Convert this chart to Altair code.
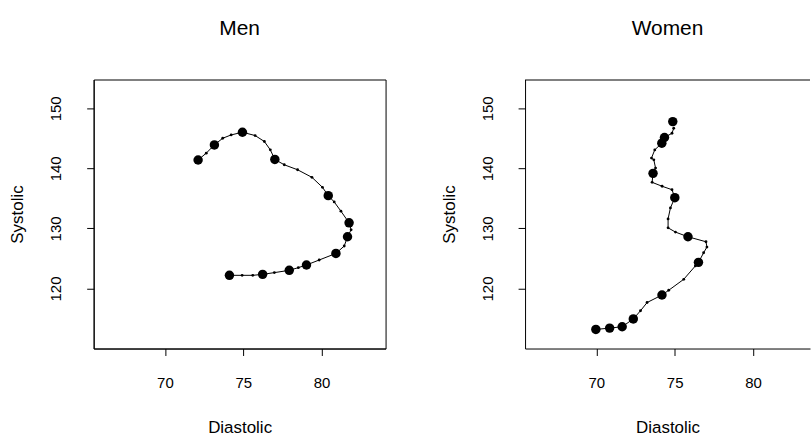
import altair as alt
import pandas as pd

# ---- data ----
# Men: large points (age-group means), in order along the curve
men_dia = [74.12, 76.24, 77.94, 79.04, 80.92, 81.66, 81.76, 80.43, 77.02, 74.95, 73.16, 72.12]
men_sys = [122.19, 122.35, 123.02, 123.91, 125.84, 128.61, 130.93, 135.46, 141.49, 146.02, 143.91, 141.40]
# Men: smoothed curve vertices (small dots)
men_curve_dia = [74.12, 74.93, 75.61, 76.24, 76.99, 77.94, 78.52, 79.04, 79.85, 80.92, 81.45, 81.66,
                 81.89, 81.76, 81.24, 80.81, 80.43, 80.06, 79.39, 78.47, 77.62, 77.02, 76.73, 76.35,
                 75.76, 74.95, 74.23, 73.69, 73.16, 72.64, 72.12]
men_curve_sys = [122.19, 122.19, 122.19, 122.35, 122.64, 123.02, 123.47, 123.91, 124.74, 125.84, 127.07, 128.61,
                 129.77, 130.93, 132.87, 134.41, 135.46, 136.85, 138.51, 139.77, 140.60, 141.49, 143.09, 144.48,
                 145.47, 146.02, 145.57, 145.02, 143.91, 142.54, 141.40]

# Women: large points
women_dia = [69.97, 70.85, 71.65, 72.36, 74.19, 76.52, 75.85, 75.01, 73.62, 74.18, 74.35, 74.88]
women_sys = [113.18, 113.40, 113.63, 114.93, 118.91, 124.35, 128.61, 135.12, 139.17, 144.20, 145.14, 147.79]
# Women: smoothed curve vertices
women_curve_dia = [69.97, 70.85, 71.65, 72.36, 72.82, 73.24, 74.19, 74.62, 75.58, 76.32, 76.52, 76.85,
                   77.06, 77.00, 75.85, 75.05, 74.58, 74.58, 74.73, 75.01, 74.83, 74.20, 73.56, 73.62,
                   73.78, 73.67, 73.52, 73.73, 74.18, 74.35, 74.83, 74.94]
women_curve_sys = [113.18, 113.40, 113.63, 114.93, 116.29, 117.66, 118.91, 119.70, 121.53, 123.75, 124.35, 125.95,
                   126.90, 127.78, 128.61, 129.39, 130.10, 131.59, 133.42, 135.12, 136.45, 137.02, 137.68, 139.17,
                   140.05, 141.43, 141.71, 143.08, 144.20, 145.14, 145.85, 146.68]

x_ticks = [70, 75, 80]
y_ticks = [120, 130, 140, 150]

FONT = "Liberation Sans"
Y_DOMAIN = [110, 154.8]
PLOT_H = 270


def panel(title, bx, by, cx, cy, width, xdom, boxed):
    curve = pd.DataFrame({"d": cx, "s": cy, "i": list(range(len(cx)))})
    big = pd.DataFrame({"d": bx, "s": by})
    x = alt.X("d:Q", scale=alt.Scale(domain=xdom, nice=False, zero=False),
              axis=alt.Axis(values=x_ticks, title="Diastolic", format="d",
                            labelPadding=20, titlePadding=29))
    y = alt.Y("s:Q", scale=alt.Scale(domain=Y_DOMAIN, nice=False, zero=False),
              axis=alt.Axis(values=y_ticks, title="Systolic", format="d", labelAngle=-90,
                            labelPadding=23, titlePadding=22))
    line = alt.Chart(curve).mark_line(color="black", strokeWidth=1).encode(x=x, y=y, order="i:Q")
    small = alt.Chart(curve).mark_circle(color="black", size=8, opacity=1).encode(x=x, y=y)
    bigp = alt.Chart(big).mark_circle(color="black", size=90, opacity=1).encode(x=x, y=y)
    layers = [line, small, bigp]
    if not boxed:
        top = alt.Chart(pd.DataFrame({"k": [0]})).mark_rule(color="black", strokeWidth=1).encode(
            x=alt.value(0), x2=alt.value(width), y=alt.value(0.5))
        layers.append(top)
        view = alt.ViewBackground(strokeOpacity=0)
    else:
        view = alt.ViewBackground(stroke="black", strokeWidth=1)
    return alt.layer(*layers).properties(
        width=width, height=PLOT_H, view=view,
        title=alt.TitleParams(title, fontSize=21, font=FONT, fontWeight="normal",
                              color="black", offset=41, anchor="middle", frame="group"))


men = panel("Men", men_dia, men_sys, men_curve_dia, men_curve_sys, 293, [65.45, 84.09], True)
women = panel("Women", women_dia, women_sys, women_curve_dia, women_curve_sys, 286, [65.45, 83.64], False)

chart = alt.hconcat(men, women, spacing=54).properties(
    padding={"left": 8, "top": 16, "right": 0, "bottom": 0},
    background="white",
).configure_axis(
    grid=False, domainColor="black", domainWidth=1, tickColor="black", tickSize=7, tickWidth=1,
    labelFont=FONT, labelFontSize=15, labelColor="black",
    titleFont=FONT, titleFontSize=17, titleFontWeight="normal", titleColor="black",
    labelFlush=False, labelOverlap=False,
)

chart.save("out.html", embed_options={"renderer": "svg", "actions": False})
